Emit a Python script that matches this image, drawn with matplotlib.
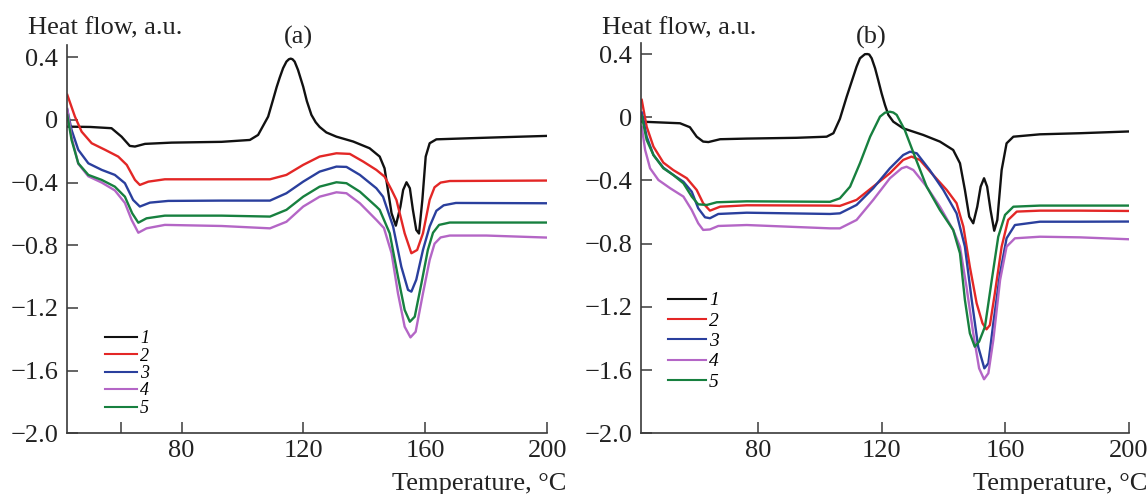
import matplotlib
matplotlib.use('Agg')
from matplotlib import pyplot as plt

plt.rcParams['font.family'] = ['Liberation Serif', 'DejaVu Serif']

# ---- panel (a): values ----
a1_x = [42.5, 50.0, 57.0, 60.3, 63.0, 64.7, 68.0, 76.7, 93.1, 102.4, 105.1, 108.4, 110.0,
        111.2, 112.2, 113.3, 114.4, 115.2, 115.8, 116.4, 117.1, 118.2, 119.9, 121.1, 122.6,
        124.0, 125.3, 127.5, 130.8, 136.3, 141.7, 145.0, 146.6, 147.7, 148.9, 150.3, 151.8,
        152.7, 153.8, 154.9, 155.9, 157.0, 157.9, 159.0, 160.1, 161.4, 163.6, 174.5, 184.4,
        200.0]
a1_y = [-0.043, -0.045, -0.053, -0.107, -0.166, -0.170, -0.153, -0.145, -0.140, -0.128, -0.096,
        0.021, 0.128, 0.210, 0.270, 0.330, 0.372, 0.387, 0.391, 0.387, 0.372, 0.319, 0.212,
        0.120, 0.032, -0.015, -0.045, -0.080, -0.107, -0.138, -0.181, -0.234, -0.309, -0.447,
        -0.596, -0.675, -0.553, -0.447, -0.398, -0.436, -0.574, -0.702, -0.725, -0.511, -0.234,
        -0.149, -0.124, -0.117, -0.111, -0.102]

a2_x = [42.5, 45.0, 47.2, 50.5, 54.9, 59.2, 62.0, 64.7, 66.3, 69.1, 74.5, 93.1, 109.0, 114.4,
        119.9, 125.3, 130.8, 135.2, 139.6, 143.9, 146.6, 148.9, 150.5, 153.2, 155.4, 157.3,
        159.2, 161.4, 163.0, 165.0, 168.0, 200.0]
a2_y = [0.160, 0.021, -0.075, -0.149, -0.191, -0.234, -0.287, -0.383, -0.415, -0.394, -0.379,
        -0.379, -0.379, -0.351, -0.287, -0.234, -0.213, -0.217, -0.266, -0.319, -0.362, -0.447,
        -0.511, -0.724, -0.851, -0.830, -0.724, -0.510, -0.430, -0.400, -0.390, -0.387]

a3_x = [42.5, 43.9, 46.1, 49.4, 53.8, 58.1, 61.4, 64.1, 66.3, 69.6, 75.6, 93.1, 109.0, 114.4,
        119.9, 125.3, 130.8, 134.1, 138.5, 143.9, 146.1, 149.4, 152.1, 154.3, 155.4, 157.0,
        159.2, 161.4, 163.6, 166.0, 170.0, 200.0]
a3_y = [0.064, -0.064, -0.191, -0.277, -0.319, -0.351, -0.404, -0.511, -0.553, -0.528, -0.517,
        -0.515, -0.515, -0.468, -0.394, -0.330, -0.298, -0.300, -0.351, -0.436, -0.490, -0.680,
        -0.937, -1.085, -1.096, -1.020, -0.830, -0.680, -0.580, -0.545, -0.530, -0.532]

a4_x = [42.5, 43.9, 46.1, 49.4, 53.8, 58.1, 61.4, 63.6, 65.8, 68.5, 74.5, 93.1, 109.0, 114.4,
        119.9, 125.3, 130.8, 134.1, 138.5, 143.9, 146.4, 148.9, 151.0, 153.2, 155.1, 156.8,
        159.2, 161.4, 163.0, 165.0, 168.0, 180.0, 200.0]
a4_y = [0.070, -0.110, -0.280, -0.360, -0.400, -0.450, -0.530, -0.638, -0.720, -0.692, -0.670,
        -0.677, -0.692, -0.650, -0.553, -0.490, -0.462, -0.468, -0.532, -0.638, -0.690, -0.851,
        -1.107, -1.320, -1.388, -1.352, -1.107, -0.894, -0.790, -0.750, -0.738, -0.738, -0.751]

a5_x = [42.5, 43.9, 46.1, 49.4, 53.8, 58.1, 61.4, 63.8, 65.8, 68.5, 74.5, 93.1, 109.0, 114.4,
        119.9, 125.3, 130.8, 134.1, 138.5, 143.9, 145.0, 148.3, 151.0, 153.2, 154.9, 156.5,
        158.7, 160.8, 162.5, 164.5, 168.0, 200.0]
a5_y = [0.030, -0.128, -0.277, -0.351, -0.383, -0.426, -0.490, -0.596, -0.656, -0.628, -0.611,
        -0.611, -0.617, -0.574, -0.490, -0.426, -0.398, -0.404, -0.458, -0.553, -0.574, -0.724,
        -1.000, -1.213, -1.288, -1.256, -1.043, -0.830, -0.720, -0.670, -0.655, -0.655]

# ---- panel (b) ----
b1_x = [42.3, 54.7, 57.9, 60.1, 62.2, 63.9, 67.7, 76.3, 92.5, 102.2, 104.4, 106.5, 108.7,
        111.9, 113.0, 114.6, 115.4, 116.0, 116.8, 117.9, 118.9, 120.0, 121.1, 122.2, 123.8,
        127.0, 133.5, 138.9, 143.2, 145.4, 147.0, 148.4, 149.7, 151.0, 152.1, 153.2, 154.2,
        155.3, 156.5, 157.5, 158.9, 160.5, 162.7, 171.3, 184.3, 200.0]
b1_y = [-0.028, -0.038, -0.063, -0.123, -0.154, -0.157, -0.139, -0.135, -0.130, -0.123, -0.101,
        -0.010, 0.130, 0.320, 0.373, 0.399, 0.400, 0.397, 0.373, 0.310, 0.236, 0.152, 0.078,
        0.015, -0.028, -0.070, -0.112, -0.154, -0.207, -0.291, -0.460, -0.629, -0.671, -0.566,
        -0.439, -0.386, -0.439, -0.587, -0.718, -0.650, -0.334, -0.165, -0.123, -0.108, -0.101,
        -0.090]

b2_x = [42.3, 43.9, 46.1, 49.3, 52.5, 56.9, 60.1, 62.2, 64.4, 67.7, 76.3, 103.3, 106.5, 111.9,
        117.3, 122.7, 127.0, 129.7, 132.4, 136.7, 141.1, 144.3, 146.5, 148.6, 150.8, 152.7,
        154.0, 155.1, 156.7, 158.9, 161.0, 163.8, 171.3, 184.3, 200.0]
b2_y = [0.110, -0.060, -0.186, -0.287, -0.334, -0.386, -0.460, -0.544, -0.591, -0.566, -0.557,
        -0.559, -0.561, -0.523, -0.439, -0.354, -0.270, -0.249, -0.270, -0.365, -0.460, -0.544,
        -0.692, -0.946, -1.177, -1.304, -1.342, -1.315, -1.114, -0.819, -0.650, -0.597, -0.591,
        -0.591, -0.593]

b3_x = [42.3, 43.9, 46.1, 49.3, 52.5, 55.8, 58.5, 60.6, 62.8, 64.4, 67.1, 76.3, 103.3, 106.5,
        111.9, 117.3, 122.7, 127.0, 129.2, 131.4, 135.6, 140.0, 144.3, 147.0, 149.2, 151.3,
        153.3, 154.6, 156.2, 158.4, 160.5, 163.2, 171.3, 184.3, 200.0]
b3_y = [0.030, -0.123, -0.239, -0.319, -0.365, -0.408, -0.471, -0.576, -0.633, -0.639, -0.612,
        -0.604, -0.612, -0.608, -0.555, -0.449, -0.323, -0.239, -0.218, -0.228, -0.334, -0.460,
        -0.608, -0.819, -1.156, -1.452, -1.589, -1.557, -1.304, -0.987, -0.766, -0.682, -0.661,
        -0.661, -0.660]

b4_x = [42.3, 43.4, 45.0, 47.7, 51.5, 55.8, 58.5, 60.6, 62.2, 64.4, 67.1, 76.3, 103.3, 106.5,
        111.9, 117.3, 122.7, 126.5, 128.1, 130.3, 134.6, 138.9, 143.2, 145.4, 147.5, 149.7,
        151.6, 153.2, 154.6, 156.2, 158.4, 160.5, 163.2, 171.3, 184.3, 200.0]
b4_y = [-0.060, -0.207, -0.323, -0.397, -0.449, -0.502, -0.587, -0.671, -0.713, -0.710, -0.688,
        -0.682, -0.703, -0.703, -0.650, -0.523, -0.386, -0.323, -0.313, -0.334, -0.439, -0.566,
        -0.713, -0.819, -1.072, -1.367, -1.589, -1.658, -1.620, -1.410, -1.030, -0.819, -0.766,
        -0.756, -0.760, -0.772]

b5_x = [42.3, 43.9, 46.1, 49.3, 52.5, 55.8, 58.5, 60.6, 63.4, 66.6, 76.3, 103.3, 106.5, 109.8,
        113.0, 116.3, 119.5, 121.1, 122.7, 123.8, 124.9, 127.5, 130.8, 134.6, 138.9, 143.2,
        145.4, 147.0, 148.6, 150.2, 151.6, 153.5, 155.7, 157.8, 160.0, 162.7, 171.3, 184.3,
        200.0]
b5_y = [0.010, -0.144, -0.239, -0.323, -0.365, -0.418, -0.502, -0.551, -0.555, -0.538, -0.532,
        -0.535, -0.513, -0.439, -0.291, -0.123, 0.004, 0.029, 0.035, 0.030, 0.015, -0.080,
        -0.249, -0.439, -0.587, -0.713, -0.861, -1.156, -1.367, -1.452, -1.420, -1.325, -1.030,
        -0.756, -0.618, -0.566, -0.559, -0.559, -0.559]

labels = ['1', '2', '3', '4', '5']
colors = ['#111111', '#e32726', '#2a3f9d', '#b466c6', '#17803f']
yticks = [-2.0, -1.6, -1.2, -0.8, -0.4, 0, 0.4]
ytick_labels = ['\u22122.0', '\u22121.6', '\u22121.2', '\u22120.8', '\u22120.4', '0', '0.4']
xticks_a = [60, 80, 120, 160, 200]
xtick_labels_a = ['', '80', '120', '160', '200']
xticks_b = [80, 120, 160, 200]
xtick_labels_b = ['80', '120', '160', '200']

W, H = 1148, 494
fig = plt.figure(figsize=(W / 100, H / 100), dpi=100)

panels = [
    dict(rect=[66.7 / W, 1 - 433.3 / H, (547.3 - 66.7) / W, (433.3 - 45) / H],
         ylim=(-2.0, 0.478), xlim=(42.3, 200),
         series=[(a1_x, a1_y), (a2_x, a2_y), (a3_x, a3_y), (a4_x, a4_y), (a5_x, a5_y)],
         xticks=xticks_a, xtl=xtick_labels_a, tag='(a)', tag_x=298, ylab_x=27.5, xlab_r=566.7,
         leg_anchor=(0.079, 0.265), leg_fs=13, leg_sp=0.02, leg_hl=1.8),
    dict(rect=[640.5 / W, 1 - 433.3 / H, (1128.5 - 640.5) / W, (433.3 - 43.3) / H],
         ylim=(-2.0, 0.468), xlim=(41.9, 200),
         series=[(b1_x, b1_y), (b2_x, b2_y), (b3_x, b3_y), (b4_x, b4_y), (b5_x, b5_y)],
         xticks=xticks_b, xtl=xtick_labels_b, tag='(b)', tag_x=871, ylab_x=601.5, xlab_r=1147,
         leg_anchor=(0.056, 0.363), leg_fs=14, leg_sp=0.14, leg_hl=1.96),
]

for p in panels:
    ax = fig.add_axes(p['rect'])
    handles = []
    for (xs, ys), c, lab in zip(p['series'], colors, labels):
        ln, = ax.plot(xs, ys, color=c, lw=1.7, label=lab, solid_joinstyle='round')
        handles.append(ln)
    ax.set_xlim(*p['xlim'])
    ax.set_ylim(*p['ylim'])
    ax.set_xticks(p['xticks'])
    ax.set_xticklabels(p['xtl'])
    ax.set_yticks(yticks)
    ax.set_yticklabels(ytick_labels)
    for s in ['top', 'right']:
        ax.spines[s].set_visible(False)
    for s in ['left', 'bottom']:
        ax.spines[s].set_color('#3a3a3a')
        ax.spines[s].set_linewidth(1.2)
    ax.tick_params(direction='in', length=8, width=1.1, color='#3a3a3a',
                   labelsize=19, labelcolor='#222222')
    ax.tick_params(axis='y', pad=6)
    ax.tick_params(axis='x', pad=5)
    leg = ax.legend(handles=handles, loc='upper left', bbox_to_anchor=p['leg_anchor'],
                    frameon=False, borderpad=0, borderaxespad=0,
                    handlelength=p['leg_hl'], handletextpad=0.15,
                    labelspacing=p['leg_sp'],
                    prop={'family': 'Liberation Serif', 'style': 'italic', 'size': p['leg_fs']})
    for h in leg.get_lines():
        h.set_linewidth(1.5)
    fig.text(p['tag_x'] / W, 1 - 43.5 / H, p['tag'], ha='center', va='baseline',
             fontsize=19, color='#222222')
    fig.text(p['ylab_x'] / W, 1 - 34.3 / H, 'Heat flow, a.u.', ha='left', va='baseline',
             fontsize=19, color='#222222')
    fig.text(p['xlab_r'] / W, 1 - 490 / H, 'Temperature, \u00b0C', ha='right', va='baseline',
             fontsize=19, color='#222222')

fig.savefig('out.png', dpi=100)
